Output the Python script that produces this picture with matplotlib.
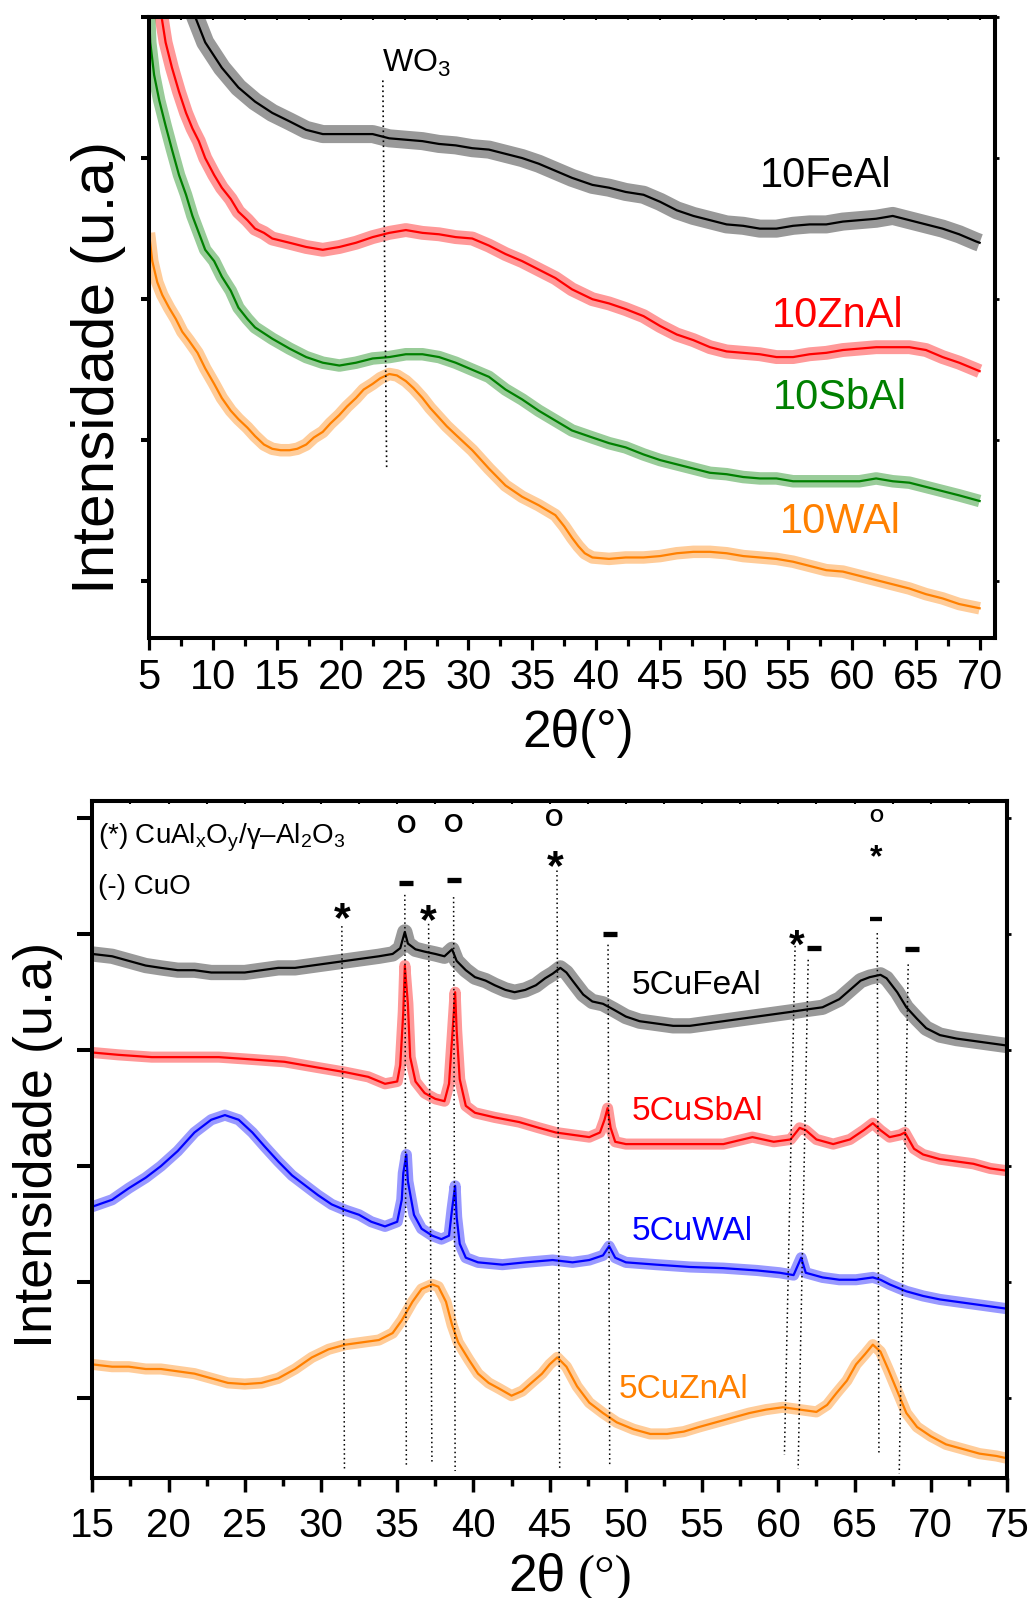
import matplotlib
matplotlib.use("Agg")
import matplotlib.pyplot as plt
from matplotlib.ticker import MultipleLocator

plt.rcParams['font.family'] = ['Liberation Sans', 'DejaVu Sans']
plt.rcParams['mathtext.fontset'] = 'custom'
plt.rcParams['mathtext.rm'] = 'Liberation Sans'

# ---------------- painel superior: catalisadores 10MAl ----------------
fe10_x = [8.4, 9.4, 10.7, 12.0, 13.3, 14.65, 16.0, 17.3, 18.6, 19.9,
          21.2, 22.5, 23.8, 25.1, 26.4, 27.7, 29.0, 30.3, 31.6, 32.9,
          34.2, 35.5, 36.8, 38.1, 39.7, 41.0, 42.3, 43.7, 45.0, 46.3,
          47.6, 48.9, 50.2, 51.5, 52.8, 54.1, 55.4, 56.7, 58.0, 59.3,
          60.6, 61.9, 63.2, 64.5, 65.8, 67.1, 68.4, 69.7, 70.0]
fe10_y = [4.05, 3.82, 3.64, 3.50, 3.40, 3.32, 3.26, 3.20, 3.17, 3.17,
          3.17, 3.17, 3.14, 3.13, 3.12, 3.10, 3.09, 3.07, 3.06, 3.03,
          3.00, 2.96, 2.91, 2.86, 2.81, 2.79, 2.76, 2.74, 2.69, 2.63,
          2.59, 2.56, 2.53, 2.52, 2.50, 2.50, 2.52, 2.53, 2.53, 2.55,
          2.56, 2.57, 2.59, 2.56, 2.53, 2.50, 2.46, 2.41, 2.40]

zn10_x = [5.9, 6.3, 6.8, 7.35, 7.9, 8.4, 8.9, 9.4, 10.1, 10.7,
          11.4, 12.0, 12.7, 13.3, 14.0, 14.65, 16.0, 17.3, 18.6, 19.9,
          21.2, 22.5, 23.8, 25.1, 26.4, 27.7, 29.0, 30.3, 31.6, 32.9,
          34.2, 35.5, 36.8, 38.1, 39.7, 41.0, 42.3, 43.7, 45.0, 46.3,
          47.6, 48.9, 50.2, 51.5, 52.8, 54.1, 55.4, 56.7, 58.0, 59.3,
          60.6, 61.9, 63.2, 64.5, 65.8, 67.1, 68.4, 70.0]
zn10_y = [4.05, 3.82, 3.64, 3.47, 3.32, 3.21, 3.12, 3.00, 2.88, 2.79,
          2.71, 2.62, 2.56, 2.50, 2.47, 2.43, 2.40, 2.37, 2.35, 2.37,
          2.40, 2.44, 2.47, 2.49, 2.47, 2.46, 2.44, 2.43, 2.38, 2.32,
          2.27, 2.21, 2.15, 2.07, 2.00, 1.97, 1.93, 1.88, 1.81, 1.75,
          1.71, 1.66, 1.63, 1.62, 1.61, 1.59, 1.59, 1.61, 1.62, 1.64,
          1.65, 1.66, 1.66, 1.66, 1.64, 1.59, 1.55, 1.49]

sb10_x = [5.0, 5.1, 5.4, 5.8, 6.3, 6.8, 7.35, 7.9, 8.4, 8.9,
          9.4, 10.1, 10.7, 11.4, 12.0, 12.7, 13.3, 14.65, 16.0, 17.3,
          18.6, 19.9, 21.2, 22.5, 23.8, 25.1, 26.4, 27.7, 29.0, 30.3,
          31.6, 32.9, 34.2, 35.5, 36.8, 38.1, 39.7, 41.0, 42.3, 43.7,
          45.0, 46.3, 47.6, 48.9, 50.2, 51.5, 52.8, 54.1, 55.4, 56.7,
          58.0, 59.3, 60.6, 61.9, 63.2, 64.5, 65.8, 67.1, 68.4, 70.0]
sb10_y = [4.05, 3.82, 3.59, 3.41, 3.23, 3.06, 2.88, 2.74, 2.59, 2.47,
          2.35, 2.27, 2.16, 2.06, 1.94, 1.86, 1.80, 1.72, 1.65, 1.59,
          1.55, 1.53, 1.55, 1.58, 1.59, 1.61, 1.61, 1.59, 1.55, 1.50,
          1.45, 1.36, 1.29, 1.21, 1.14, 1.07, 1.02, 0.98, 0.95, 0.90,
          0.86, 0.83, 0.80, 0.77, 0.76, 0.74, 0.73, 0.73, 0.71, 0.71,
          0.71, 0.71, 0.71, 0.73, 0.71, 0.70, 0.67, 0.64, 0.61, 0.57]

w10_x = [5.0, 5.26, 5.65, 6.04, 6.57, 7.1, 7.6, 8.1, 8.8, 9.4,
         10.1, 10.7, 11.4, 12.0, 12.7, 13.3, 14.0, 14.65, 15.3, 16.0,
         16.6, 17.3, 17.9, 18.6, 19.2, 19.9, 20.5, 21.2, 21.8, 22.5,
         23.1, 23.8, 24.4, 25.1, 25.7, 26.4, 27.0, 27.7, 28.3, 29.0,
         30.3, 31.6, 32.9, 34.2, 35.5, 36.8, 37.5, 38.1, 38.6, 39.1,
         39.7, 41.0, 42.3, 43.7, 45.0, 46.3, 47.6, 48.9, 50.2, 51.5,
         52.8, 54.1, 55.4, 56.7, 58.0, 59.3, 60.6, 61.9, 63.2, 64.5,
         65.8, 67.1, 68.4, 70.0]
w10_y = [2.47, 2.27, 2.12, 2.03, 1.94, 1.86, 1.77, 1.71, 1.62, 1.51,
         1.40, 1.30, 1.21, 1.15, 1.09, 1.03, 0.97, 0.94, 0.93, 0.93,
         0.94, 0.97, 1.02, 1.06, 1.12, 1.18, 1.24, 1.30, 1.36, 1.40,
         1.44, 1.47, 1.46, 1.42, 1.37, 1.30, 1.23, 1.16, 1.10, 1.04,
         0.93, 0.80, 0.68, 0.60, 0.54, 0.47, 0.39, 0.31, 0.25, 0.20,
         0.17, 0.16, 0.17, 0.17, 0.18, 0.20, 0.21, 0.21, 0.20, 0.18,
         0.17, 0.16, 0.14, 0.11, 0.08, 0.07, 0.04, 0.01, -0.02, -0.05,
         -0.09, -0.12, -0.16, -0.19]

top_names = ['10FeAl', '10ZnAl', '10SbAl', '10WAl']
top_colors = ['black', '#ff0000', '#008000', '#ff8000']
top_label_x = [52.8, 53.75, 53.8, 54.4]
top_label_y = [2.87, 1.88, 1.30, 0.42]
wo3_x = [23.3, 23.6]
wo3_y = [3.55, 0.79]

# ---------------- painel inferior: catalisadores 5CuMAl ----------------
fe5_x = [15.0, 16.3, 17.4, 18.5, 19.5, 20.6, 21.7, 22.8, 23.9, 25.0,
         26.1, 27.2, 28.3, 29.4, 30.5, 31.6, 32.7, 33.8, 34.7, 35.2,
         35.5, 35.7, 36.2, 36.8, 37.5, 38.1, 38.6, 38.9, 39.5, 40.1,
         40.8, 41.4, 42.1, 42.7, 43.4, 44.1, 44.7, 45.2, 45.7, 46.1,
         46.5, 47.2, 47.8, 48.5, 49.2, 50.0, 50.9, 52.0, 53.1, 54.2,
         55.3, 56.4, 57.5, 58.6, 59.7, 60.8, 61.8, 62.9, 64.0, 64.7,
         65.4, 66.0, 66.7, 67.1, 67.8, 68.4, 69.1, 69.7, 70.6, 71.7,
         72.8, 73.9, 75.0]
fe5_y = [3.83, 3.81, 3.77, 3.73, 3.71, 3.69, 3.69, 3.67, 3.67, 3.67,
         3.69, 3.71, 3.71, 3.73, 3.75, 3.77, 3.79, 3.81, 3.83, 3.88,
         4.02, 3.92, 3.87, 3.85, 3.83, 3.81, 3.87, 3.77, 3.69, 3.63,
         3.60, 3.56, 3.52, 3.50, 3.52, 3.56, 3.62, 3.66, 3.71, 3.67,
         3.60, 3.48, 3.42, 3.40, 3.35, 3.29, 3.25, 3.23, 3.21, 3.21,
         3.23, 3.25, 3.27, 3.29, 3.31, 3.33, 3.35, 3.37, 3.44, 3.52,
         3.60, 3.63, 3.65, 3.62, 3.50, 3.37, 3.27, 3.19, 3.13, 3.10,
         3.08, 3.06, 3.04]

sb5_x = [15.0, 16.7, 18.9, 21.1, 23.3, 25.5, 27.6, 29.8, 31.6, 33.1,
         34.2, 35.0, 35.2, 35.4, 35.5, 35.7, 35.85, 36.2, 36.8, 37.5,
         38.1, 38.4, 38.6, 38.8, 38.9, 39.1, 39.5, 40.1, 41.4, 43.0,
         44.3, 45.4, 46.5, 47.6, 48.3, 48.6, 48.8, 49.0, 49.3, 50.0,
         52.0, 54.2, 56.4, 58.3, 59.7, 60.8, 61.4, 61.8, 62.5, 63.6,
         64.7, 65.6, 66.2, 66.7, 67.3, 68.0, 68.3, 68.9, 69.5, 70.6,
         71.7, 72.8, 73.9, 75.0]
sb5_y = [2.98, 2.96, 2.94, 2.94, 2.94, 2.92, 2.90, 2.85, 2.81, 2.77,
         2.71, 2.73, 2.87, 3.33, 3.73, 3.40, 2.94, 2.73, 2.63, 2.58,
         2.56, 2.71, 3.10, 3.50, 3.17, 2.75, 2.52, 2.46, 2.42, 2.38,
         2.33, 2.29, 2.27, 2.25, 2.29, 2.40, 2.50, 2.33, 2.21, 2.19,
         2.19, 2.19, 2.19, 2.25, 2.21, 2.23, 2.33, 2.31, 2.23, 2.19,
         2.23, 2.31, 2.37, 2.31, 2.25, 2.27, 2.29, 2.15, 2.10, 2.06,
         2.04, 2.02, 1.98, 1.96]

w5_x = [15.0, 16.3, 17.4, 18.5, 19.5, 20.6, 21.7, 22.8, 23.7, 24.6,
        25.5, 26.3, 27.2, 28.1, 29.0, 29.8, 30.7, 31.6, 32.5, 33.3,
        34.2, 35.0, 35.3, 35.4, 35.6, 35.7, 36.1, 36.6, 37.3, 37.9,
        38.4, 38.6, 38.8, 38.9, 39.1, 39.5, 40.3, 41.9, 43.4, 45.2,
        46.5, 47.6, 48.5, 48.9, 49.3, 50.0, 52.0, 54.2, 56.4, 58.6,
        60.1, 61.0, 61.5, 61.8, 62.9, 64.0, 65.1, 66.2, 66.7, 67.3,
        68.4, 69.5, 70.6, 71.7, 72.8, 73.9, 75.0]
w5_y = [1.65, 1.71, 1.81, 1.90, 2.00, 2.13, 2.29, 2.40, 2.44, 2.40,
        2.29, 2.17, 2.04, 1.92, 1.83, 1.75, 1.67, 1.62, 1.58, 1.52,
        1.48, 1.52, 1.71, 1.94, 2.10, 1.87, 1.58, 1.46, 1.40, 1.37,
        1.40, 1.63, 1.83, 1.56, 1.33, 1.21, 1.17, 1.15, 1.17, 1.19,
        1.17, 1.19, 1.23, 1.31, 1.21, 1.17, 1.15, 1.13, 1.12, 1.10,
        1.08, 1.06, 1.21, 1.08, 1.04, 1.02, 1.02, 1.04, 1.02, 0.98,
        0.92, 0.88, 0.85, 0.83, 0.81, 0.79, 0.77]

zn5_x = [15.0, 16.3, 17.4, 18.5, 19.5, 20.6, 21.7, 22.8, 23.9, 25.0,
         26.1, 27.2, 28.3, 29.4, 30.5, 31.6, 32.7, 33.8, 34.7, 35.3,
         36.0, 36.6, 37.3, 37.7, 38.2, 38.6, 39.0, 39.7, 40.3, 41.0,
         41.7, 42.5, 43.2, 43.8, 44.5, 45.0, 45.5, 46.1, 46.8, 47.6,
         48.5, 49.4, 50.5, 51.6, 52.7, 53.8, 54.8, 55.9, 57.0, 58.1,
         59.2, 60.3, 61.4, 62.5, 63.2, 63.8, 64.5, 65.1, 65.7, 66.2,
         66.7, 67.2, 67.8, 68.4, 69.1, 70.0, 71.0, 72.1, 73.2, 74.3,
         75.0]
zn5_y = [0.29, 0.27, 0.27, 0.25, 0.25, 0.23, 0.21, 0.17, 0.13, 0.12,
         0.13, 0.17, 0.25, 0.35, 0.42, 0.46, 0.48, 0.50, 0.56, 0.67,
         0.83, 0.94, 0.98, 0.96, 0.83, 0.63, 0.48, 0.33, 0.21, 0.13,
         0.08, 0.02, 0.06, 0.13, 0.21, 0.29, 0.35, 0.27, 0.10, -0.04,
         -0.13, -0.21, -0.27, -0.31, -0.31, -0.29, -0.25, -0.21, -0.17, -0.13,
         -0.10, -0.08, -0.10, -0.12, -0.06, 0.04, 0.15, 0.29, 0.38, 0.46,
         0.40, 0.25, 0.06, -0.13, -0.25, -0.33, -0.40, -0.44, -0.48, -0.50,
         -0.52]

bot_names = ['5CuFeAl', '5CuSbAl', '5CuWAl', '5CuZnAl']
bot_colors = ['black', '#ff0000', '#0000ff', '#ff8000']
bot_label_x = [50.4, 50.4, 50.4, 49.55]
bot_label_y = [3.56, 2.47, 1.44, 0.07]

# linhas pontilhadas das fases (x no topo, x na base, y topo, y base)
ref_x_top = [31.37, 35.5, 37.06, 38.7, 45.48, 48.83, 61.1, 61.96, 66.49, 68.52]
ref_x_bot = [31.54, 35.6, 37.28, 38.8, 45.66, 48.94, 60.4, 61.3, 66.6, 67.93]
ref_y_top = [4.07, 4.34, 4.09, 4.32, 4.55, 3.91, 3.90, 3.78, 4.01, 3.74]
ref_y_bot = [-0.61, -0.59, -0.57, -0.63, -0.61, -0.59, -0.49, -0.61, -0.49, -0.65]

# simbolos: (*) CuAlxOy/g-Al2O3, (-) CuO, (o)
star_x = [31.37, 37.05, 45.4, 61.19, 66.44]
star_y = [4.21, 4.19, 4.66, 3.97, 4.72]
star_fs = [31, 31, 31, 29, 23]
circ_x = [35.64, 38.73, 45.33, 66.4]
circ_y = [4.93, 4.94, 4.99, 5.01]
circ_fs = [18, 18, 17, 13]
dash_x = [35.6, 38.7, 48.94, 62.33, 66.4, 68.8]
dash_y = [4.44, 4.47, 4.00, 3.88, 4.13, 3.87]
dash_ms = [10.3, 10.3, 10.3, 10.3, 8.4, 10.3]


def style_axes(ax, spine_w=2.9):
    for sp in ax.spines.values():
        sp.set_linewidth(spine_w)
    ax.xaxis.set_major_locator(MultipleLocator(5))
    ax.xaxis.set_minor_locator(MultipleLocator(2.5))
    # pequenos ticks no topo e a direita
    top = ax.secondary_xaxis('top')
    top.xaxis.set_major_locator(MultipleLocator(5))
    top.xaxis.set_minor_locator(MultipleLocator(2.5))
    top.tick_params(which='both', direction='in', length=2.5, width=1.5, labeltop=False)
    top.spines['top'].set_linewidth(spine_w)
    right = ax.secondary_yaxis('right')
    right.set_yticks(ax.get_yticks())
    right.tick_params(direction='out', length=3, width=2, labelright=False)
    right.spines['right'].set_linewidth(spine_w)


def draw_trace(ax, x, y, color, band):
    # faixa translucida imita o ruido do difratograma
    ax.plot(x, y, color=color, lw=band, alpha=0.4, solid_capstyle='butt')
    ax.plot(x, y, color=color, lw=1.6)


fig = plt.figure(figsize=(10.36, 15.98), dpi=100)

# ---------- painel superior ----------
ax1 = fig.add_axes([0.1438, 0.6008, 0.8166, 0.3886])
top_x = [fe10_x, zn10_x, sb10_x, w10_x]
top_y = [fe10_y, zn10_y, sb10_y, w10_y]
top_band = [13, 10, 9, 9]
for xs, ys, c, b in zip(top_x, top_y, top_colors, top_band):
    draw_trace(ax1, xs, ys, c, b)
for name, c, lx, ly in zip(top_names, top_colors, top_label_x, top_label_y):
    ax1.text(lx, ly, name, color=c, fontsize=30, ha='left', va='center')

ax1.plot(wo3_x, wo3_y, color='black', lw=1.2, ls=(0, (1, 2)))
ax1.text(23.2, 3.67, 'WO$_\\mathregular{3}$', fontsize=23, ha='left', va='center')

ax1.set_xlim(5, 71.2)
ax1.set_ylim(-0.40, 4.0)
ax1.set_yticks([0, 1, 2, 3, 4])
style_axes(ax1)
ax1.tick_params(axis='y', which='major', length=5.8, width=2.9, labelleft=False)
ax1.tick_params(axis='x', which='major', length=8.6, width=2.3, labelsize=30, pad=6)
ax1.tick_params(axis='x', which='minor', length=5.8, width=2.3)

fig.text(0.0946, 0.7703, 'Intensidade (u.a)', rotation=90, fontsize=43.5,
         ha='center', va='center')
fig.text(0.5579, 0.5413, '2θ(°)', fontsize=37, ha='center', va='center')

# ---------- painel inferior ----------
ax2 = fig.add_axes([0.0891, 0.0751, 0.8829, 0.4237])
bot_x = [fe5_x, sb5_x, w5_x, zn5_x]
bot_y = [fe5_y, sb5_y, w5_y, zn5_y]
bot_band = [11, 8, 8, 8]
for xs, ys, c, b in zip(bot_x, bot_y, bot_colors, bot_band):
    draw_trace(ax2, xs, ys, c, b)
for name, c, lx, ly in zip(bot_names, bot_colors, bot_label_x, bot_label_y):
    ax2.text(lx, ly, name, color=c, fontsize=24, ha='left', va='center')

for xt, xb, yt, yb in zip(ref_x_top, ref_x_bot, ref_y_top, ref_y_bot):
    ax2.plot([xt, xb], [yt, yb], color='black', lw=1.1, ls=(0, (1, 2)))

for sx, sy, fs in zip(star_x, star_y, star_fs):
    ax2.annotate('*', xy=(sx, sy), xytext=(0, -0.23 * fs), textcoords='offset points',
                 fontsize=fs, fontweight='bold', ha='center', va='center')
for cx, cy, fs in zip(circ_x, circ_y, circ_fs):
    ax2.text(cx, cy, 'O', fontsize=fs, fontweight='bold', ha='center', va='center')
for dx, dy, ms in zip(dash_x, dash_y, dash_ms):
    ax2.plot([dx], [dy], marker='_', ms=ms, mew=ms * 0.37, color='black', ls='none')

ax2.text(15.35, 4.83, '(*) CuAl$_\\mathregular{x}$O$_\\mathregular{y}$/γ–Al$_\\mathregular{2}$O$_\\mathregular{3}$',
         fontsize=20, ha='left', va='center')
ax2.text(15.35, 4.41, '(-) CuO', fontsize=20, ha='left', va='center')

ax2.set_xlim(15, 75)
ax2.set_ylim(-0.69, 5.15)
ax2.set_yticks([0, 1, 2, 3, 4, 5])
style_axes(ax2)
ax2.tick_params(axis='y', which='major', length=10.8, width=2.9, labelleft=False)
ax2.tick_params(axis='x', which='major', length=10, width=2.5, labelsize=29, pad=11)
ax2.tick_params(axis='x', which='minor', length=5.8, width=2.5)

fig.text(0.0367, 0.2835, 'Intensidade (u.a)', rotation=90, fontsize=39,
         ha='center', va='center')
# rotulo do eixo x inferior: "2θ" sem serifa e "(°)" com serifa
fig.text(0.4903, 0.005, '2θ', fontsize=37, ha='left', va='baseline')
fig.text(0.558, 0.005, '(°)', fontsize=37, ha='left', va='baseline',
         family=['Liberation Serif', 'DejaVu Serif'])

fig.savefig('out.png', dpi=100)
